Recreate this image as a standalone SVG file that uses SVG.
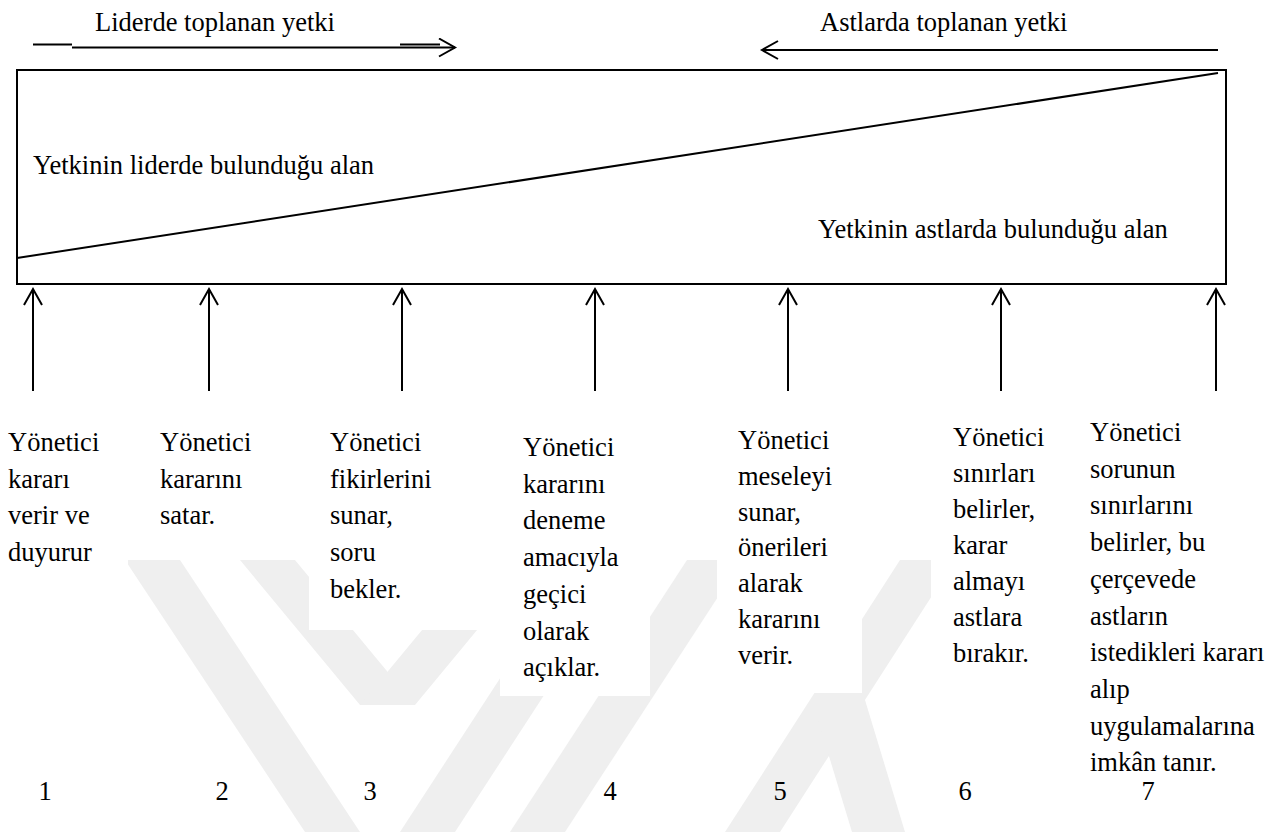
<svg xmlns="http://www.w3.org/2000/svg" width="1282" height="832" viewBox="0 0 1282 832">
  <defs>
    <style>
      text { font-family: "Times New Roman", "Liberation Serif", serif; font-size: 26.5px; fill: #000; }
      .num { text-anchor: middle; }
      .ln { stroke: #000; stroke-width: 2; fill: none; }
      .wm { fill: #efefef; }
      .mask { fill: #fff; }
    </style>
    <marker id="head" markerUnits="userSpaceOnUse" markerWidth="20" markerHeight="22" refX="17" refY="10" orient="auto">
      <path d="M1,1 L17,10 L1,19" fill="none" stroke="#000" stroke-width="2"/>
    </marker>
  </defs>

  <rect width="1282" height="832" fill="#fff"/>

  <!-- faint background emblem, partly covered by the text panels -->
  <g id="emblem">
    <polygon class="wm" points="125,560 180,560 360,832 305,832"/>
    <polygon class="wm" points="240,560 295,560 415,705 360,705"/>
    <polygon class="wm" points="480,560 535,560 415,705 360,705"/>
    <polygon class="wm" points="577,560 632,560 455,832 400,832"/>
    <polygon class="wm" points="687,560 742,560 565,832 510,832"/>
    <polygon class="wm" points="900,560 955,560 780,832 725,832"/>
    <polygon class="wm" points="812,700 865,700 905,832 852,832"/>
    <rect class="mask" x="0" y="410" width="128" height="187"/>
    <rect class="mask" x="128" y="410" width="181" height="150"/>
    <rect class="mask" x="309" y="410" width="191" height="220"/>
    <rect class="mask" x="500" y="410" width="150" height="286"/>
    <rect class="mask" x="717" y="410" width="145" height="283"/>
    <rect class="mask" x="931" y="410" width="351" height="422"/>
  </g>

  <!-- authority spectrum box -->
  <g id="spectrum">
    <rect class="ln" x="17" y="70" width="1209" height="214"/>
    <line class="ln" x1="17" y1="258" x2="1218" y2="73"/>
    <text x="33" y="174" style="font-family: 'Times New Roman', serif">Yetkinin liderde bulunduğu alan</text>
    <text x="818" y="238" style="font-family: 'Times New Roman', serif">Yetkinin astlarda bulunduğu alan</text>
  </g>

  <!-- direction headers -->
  <g id="leader-header">
    <text x="95" y="31">Liderde toplanan yetki</text>
  </g>
  <g id="subordinate-header">
    <text x="820" y="31">Astlarda toplanan yetki</text>
  </g>

  <!-- connectors -->
  <g id="connectors">
    <line class="ln" x1="33" y1="44.5" x2="72" y2="44.5"/>
    <line class="ln" x1="400" y1="44.5" x2="440" y2="44.5"/>
    <line class="ln" x1="72" y1="47.5" x2="455" y2="47.5" marker-end="url(#head)"/>
    <line class="ln" x1="1218" y1="50" x2="762" y2="50" marker-end="url(#head)"/>
    <line class="ln" x1="33" y1="391" x2="33" y2="289" marker-end="url(#head)"/>
    <line class="ln" x1="209" y1="391" x2="209" y2="289" marker-end="url(#head)"/>
    <line class="ln" x1="402" y1="391" x2="402" y2="289" marker-end="url(#head)"/>
    <line class="ln" x1="595" y1="391" x2="595" y2="289" marker-end="url(#head)"/>
    <line class="ln" x1="788" y1="391" x2="788" y2="289" marker-end="url(#head)"/>
    <line class="ln" x1="1001" y1="391" x2="1001" y2="289" marker-end="url(#head)"/>
    <line class="ln" x1="1216" y1="391" x2="1216" y2="289" marker-end="url(#head)"/>
  </g>

  <!-- leadership styles, from leader-centred (1) to subordinate-centred (7) -->
  <g id="style-1" style="font-family: 'Times New Roman', serif">
    <text x="8" y="451">Yönetici</text>
    <text x="8" y="487.7">kararı</text>
    <text x="8" y="524.4">verir ve</text>
    <text x="8" y="561.1">duyurur</text>
    <text class="num" x="45" y="800">1</text>
  </g>
  <g id="style-2" style="font-family: 'Times New Roman', serif">
    <text x="160" y="451">Yönetici</text>
    <text x="160" y="487.7">kararını</text>
    <text x="160" y="524.4">satar.</text>
    <text class="num" x="222" y="800">2</text>
  </g>
  <g id="style-3" style="font-family: 'Times New Roman', serif">
    <text x="330" y="451">Yönetici</text>
    <text x="330" y="487.7">fikirlerini</text>
    <text x="330" y="524.4">sunar,</text>
    <text x="330" y="561.1">soru</text>
    <text x="330" y="597.8">bekler.</text>
    <text class="num" x="370" y="800">3</text>
  </g>
  <g id="style-4" style="font-family: 'Times New Roman', serif">
    <text x="523" y="456">Yönetici</text>
    <text x="523" y="492.7">kararını</text>
    <text x="523" y="529.4">deneme</text>
    <text x="523" y="566.1">amacıyla</text>
    <text x="523" y="602.8">geçici</text>
    <text x="523" y="639.5">olarak</text>
    <text x="523" y="676.2">açıklar.</text>
    <text class="num" x="610" y="800">4</text>
  </g>
  <g id="style-5" style="font-family: 'Times New Roman', serif">
    <text x="738" y="449">Yönetici</text>
    <text x="738" y="484.8">meseleyi</text>
    <text x="738" y="520.6">sunar,</text>
    <text x="738" y="556.4">önerileri</text>
    <text x="738" y="592.2">alarak</text>
    <text x="738" y="628">kararını</text>
    <text x="738" y="663.8">verir.</text>
    <text class="num" x="780" y="800">5</text>
  </g>
  <g id="style-6" style="font-family: 'Times New Roman', serif">
    <text x="953" y="446">Yönetici</text>
    <text x="953" y="482">sınırları</text>
    <text x="953" y="518">belirler,</text>
    <text x="953" y="554">karar</text>
    <text x="953" y="590">almayı</text>
    <text x="953" y="626">astlara</text>
    <text x="953" y="662">bırakır.</text>
    <text class="num" x="965" y="800">6</text>
  </g>
  <g id="style-7" style="font-family: 'Times New Roman', serif">
    <text x="1090" y="441">Yönetici</text>
    <text x="1090" y="477.7">sorunun</text>
    <text x="1090" y="514.4">sınırlarını</text>
    <text x="1090" y="551.1">belirler, bu</text>
    <text x="1090" y="587.8">çerçevede</text>
    <text x="1090" y="624.5">astların</text>
    <text x="1090" y="661.2">istedikleri kararı</text>
    <text x="1090" y="697.9">alıp</text>
    <text x="1090" y="734.6">uygulamalarına</text>
    <text x="1090" y="771.3">imkân tanır.</text>
    <text class="num" x="1148" y="800">7</text>
  </g>
</svg>
